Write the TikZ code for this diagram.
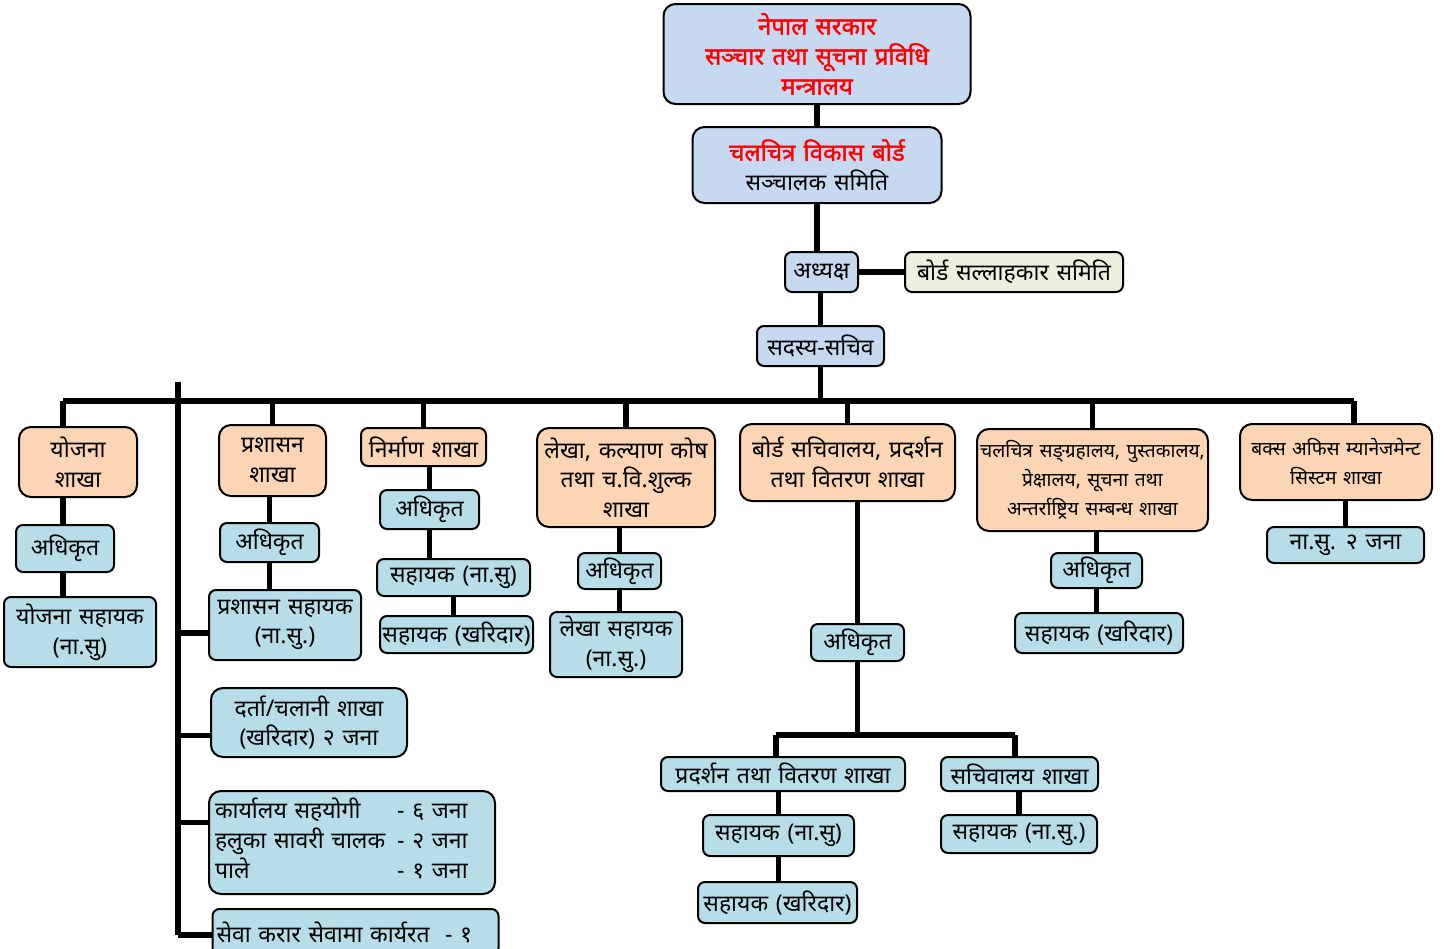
\documentclass[tikz,border=0pt]{standalone}
\usepackage{fontspec}
\usepackage{tikz}
\usepackage{xcolor}
\usetikzlibrary{positioning}
\newfontfamily\deva[Script=Devanagari, WordSpace=1.3]{Noto Sans}
\newfontfamily\devabf[Script=Devanagari, WordSpace=1.3, FakeBold=1.5]{Noto Sans}
\definecolor{orgblue}{RGB}{198, 217, 241}
\definecolor{orgorange}{RGB}{252, 213, 181}
\definecolor{orgteal}{RGB}{183, 222, 232}
\definecolor{orggreen}{RGB}{235, 241, 222}
\definecolor{orgred}{RGB}{255, 0, 0}
\tikzset{
    orgbox/.style={draw, line width=1pt, inner sep=1pt, align=center, font=\deva\fontsize{11.5}{14.8}\selectfont},
    headbox/.style={orgbox, fill=orgblue, rounded corners=6pt},
    branchbox/.style={orgbox, fill=orgorange, rounded corners=6pt},
    staffbox/.style={orgbox, fill=orgteal, rounded corners=3.5pt},
    advisebox/.style={orgbox, fill=orggreen, rounded corners=3.5pt},
    smalltext/.style={font=\deva\fontsize{9.6}{14.5}\selectfont},
    link/.style={line width=2.6pt}
}
\begin{document}
\begin{tikzpicture}[x=0.5pt, y=-0.5pt]
    \useasboundingbox (0,0) rectangle (1453,949);
    % top of the chart
    \node[headbox, text=orgred, font=\devabf\fontsize{12}{15}\selectfont, minimum width=153.5pt, minimum height=50pt] (gov) at (817,54) {नेपाल सरकार\\ सञ्चार तथा सूचना प्रविधि\\ मन्त्रालय};
    \node[headbox, minimum width=124.5pt, minimum height=38pt] (board) at (817,165) {{\color{orgred}\devabf\fontsize{12}{14.8}\selectfont चलचित्र विकास बोर्ड}\\ सञ्चालक समिति};
    \node[headbox, rounded corners=3.5pt, minimum width=36.5pt, minimum height=20pt] (chair) at (821.5,272) {अध्यक्ष};
    \node[advisebox, minimum width=109pt, minimum height=20pt] (advise) at (1014,272) {बोर्ड सल्लाहकार समिति};
    \node[headbox, rounded corners=3.5pt, minimum width=63.5pt, minimum height=20pt] (secretary) at (820.5,346) {सदस्य-सचिव};
    \coordinate (barL) at (63,401);
    \coordinate (barR) at (1354,401);
    \coordinate (adminTop) at (178,382);
    \coordinate (adminBot) at (178,935);

    % branches
    \node[branchbox, minimum width=59pt, minimum height=35pt] (yojana) at (78,462) {योजना\\ शाखा};
    \node[branchbox, minimum width=53.5pt, minimum height=35.5pt] (prashasan) at (272.5,460.5) {प्रशासन\\ शाखा};
    \node[branchbox, rounded corners=3.5pt, minimum width=62.5pt, minimum height=19pt] (nirman) at (423.5,447) {निर्माण शाखा};
    \node[branchbox, minimum width=89pt, minimum height=49.5pt] (lekha) at (626,477.5) {लेखा, कल्याण कोष\\ तथा च.वि.शुल्क\\ शाखा};
    \node[branchbox, minimum width=107.5pt, minimum height=38.5pt] (sachivalaya) at (847.5,462.5) {बोर्ड सचिवालय, प्रदर्शन\\ तथा वितरण शाखा};
    \node[branchbox, smalltext, minimum width=115.5pt, minimum height=51pt] (chalchitra) at (1092.5,480) {चलचित्र सङ्ग्रहालय, पुस्तकालय,\\ प्रेक्षालय, सूचना तथा\\ अन्तर्राष्ट्रिय सम्बन्ध शाखा};
    \node[branchbox, smalltext, minimum width=96pt, minimum height=38pt] (baks) at (1336,462) {बक्स अफिस म्यानेजमेन्ट\\ सिस्टम शाखा};

    % staff under the branches
    \node[staffbox, minimum width=49pt, minimum height=23.5pt] (y1) at (65,548.5) {अधिकृत};
    \node[staffbox, minimum width=76pt, minimum height=35pt] (y2) at (80,632) {योजना सहायक\\ (ना.सु)};
    \node[staffbox, minimum width=49.5pt, minimum height=19.5pt] (p1) at (269.5,542.5) {अधिकृत};
    \node[staffbox, minimum width=76pt, minimum height=35pt] (p2) at (285,625) {प्रशासन सहायक\\ (ना.सु.)};
    \node[staffbox, minimum width=49.5pt, minimum height=19.5pt] (n1) at (429.5,509.5) {अधिकृत};
    \node[staffbox, minimum width=76.5pt, minimum height=18.5pt] (n2) at (453.5,577.5) {सहायक (ना.सु)};
    \node[staffbox, minimum width=76.5pt, minimum height=18.5pt] (n3) at (456.5,634.5) {सहायक (खरिदार)};
    \node[staffbox, minimum width=41.5pt, minimum height=18pt] (l1) at (619.5,571) {अधिकृत};
    \node[staffbox, minimum width=66pt, minimum height=32.5pt] (l2) at (616,644.5) {लेखा सहायक\\ (ना.सु.)};
    \node[staffbox, minimum width=46.5pt, minimum height=18.5pt] (s1) at (857.5,642.5) {अधिकृत};
    \node[staffbox, minimum width=122pt, minimum height=17pt] (s2) at (783,774) {प्रदर्शन तथा वितरण शाखा};
    \node[staffbox, minimum width=78.5pt, minimum height=17pt] (s3) at (1019.5,774) {सचिवालय शाखा};
    \node[staffbox, minimum width=75.5pt, minimum height=20.5pt] (s4) at (778.5,835.5) {सहायक (ना.सु)};
    \node[staffbox, minimum width=79.5pt, minimum height=20.5pt] (s5) at (777.5,902.5) {सहायक (खरिदार)};
    \node[staffbox, minimum width=78pt, minimum height=19pt] (s6) at (1019,834) {सहायक (ना.सु.)};
    \coordinate (sbarL) at (776,735);
    \coordinate (sbarR) at (1015,735);
    \node[staffbox, minimum width=45.5pt, minimum height=17.5pt] (c1) at (1096.5,570.5) {अधिकृत};
    \node[staffbox, minimum width=84pt, minimum height=20pt] (c2) at (1099,633) {सहायक (खरिदार)};
    \node[staffbox, minimum width=78.5pt, minimum height=18pt] (b1) at (1345.5,545) {ना.सु. २ जना};

    % office staff on the left
    \node[staffbox, rounded corners=6pt, minimum width=98pt, minimum height=34.5pt] (a1) at (309,722.5) {दर्ता/चलानी शाखा\\ (खरिदार) २ जना};
    \node[staffbox, rounded corners=6pt, align=left, text width=141pt, minimum height=51.5pt] (a2) at (352,842.5) {\begin{tabular}{@{\hspace{2pt}}l@{\hspace{6pt}}l@{}}कार्यालय सहयोगी & - ६ जना\\ हलुका सावरी चालक & - २ जना\\ पाले & - १ जना\end{tabular}};
    \node[staffbox, align=left, text width=141pt, minimum height=23pt] (a3) at (355.5,932) {\hspace{1pt}सेवा करार सेवामा कार्यरत \ - १};

    % connectors
    \draw[link] (gov.south) -- (gov.south |- board.north);
    \draw[link] (board.south) -- (board.south |- chair.north);
    \draw[link] (chair.east) -- (advise.west);
    \draw[link] (chair.south -| secretary.north) -- (secretary.north);
    \draw[link] (secretary.south) -- (secretary.south |- barL);
    \draw[link] (barL) -- (barR);
    \draw[link] (barL) -- (barL |- yojana.north);
    \draw[link] (prashasan.north |- barL) -- (prashasan.north);
    \draw[link] (nirman.north |- barL) -- (nirman.north);
    \draw[link] (lekha.north |- barL) -- (lekha.north);
    \draw[link] (sachivalaya.north |- barL) -- (sachivalaya.north);
    \draw[link] (chalchitra.north |- barL) -- (chalchitra.north);
    \draw[link] (barR) -- (barR |- baks.north);
    \draw[link] (barL |- yojana.south) -- (barL |- y1.north);
    \draw[link] (barL |- y1.south) -- (barL |- y2.north);
    \draw[link] (p1.north |- prashasan.south) -- (p1.north);
    \draw[link] (p1.south) -- (p1.south |- p2.north);
    \draw[link] (n1.north |- nirman.south) -- (n1.north);
    \draw[link] (n1.south) -- (n1.south |- n2.north);
    \draw[link] (n2.south) -- (n2.south |- n3.north);
    \draw[link] (l1.north |- lekha.south) -- (l1.north);
    \draw[link] (l1.south) -- (l1.south |- l2.north);
    \draw[link] (s1.north |- sachivalaya.south) -- (s1.north);
    \draw[link] (s1.south) -- (s1.south |- sbarL);
    \draw[link] (sbarL) -- (sbarR);
    \draw[link] (sbarL) -- (sbarL |- s2.north);
    \draw[link] (sbarR) -- (sbarR |- s3.north);
    \draw[link] (s4.north |- s2.south) -- (s4.north);
    \draw[link] (s4.south) -- (s4.south |- s5.north);
    \draw[link] (s6.north |- s3.south) -- (s6.north);
    \draw[link] (c1.north |- chalchitra.south) -- (c1.north);
    \draw[link] (c1.south) -- (c1.south |- c2.north);
    \draw[link] (b1.north |- baks.south) -- (b1.north);
    \draw[link] (adminTop) -- (adminBot);
    \draw[link] ([yshift=-4pt]p2.west -| adminTop) -- ([yshift=-4pt]p2.west);
    \draw[link] ([yshift=-6.5pt]a1.west -| adminTop) -- ([yshift=-6.5pt]a1.west);
    \draw[link] ([yshift=10pt]a2.west -| adminTop) -- ([yshift=10pt]a2.west);
    \draw[link] (adminBot) -- (adminBot -| a3.west);
\end{tikzpicture}
\end{document}
